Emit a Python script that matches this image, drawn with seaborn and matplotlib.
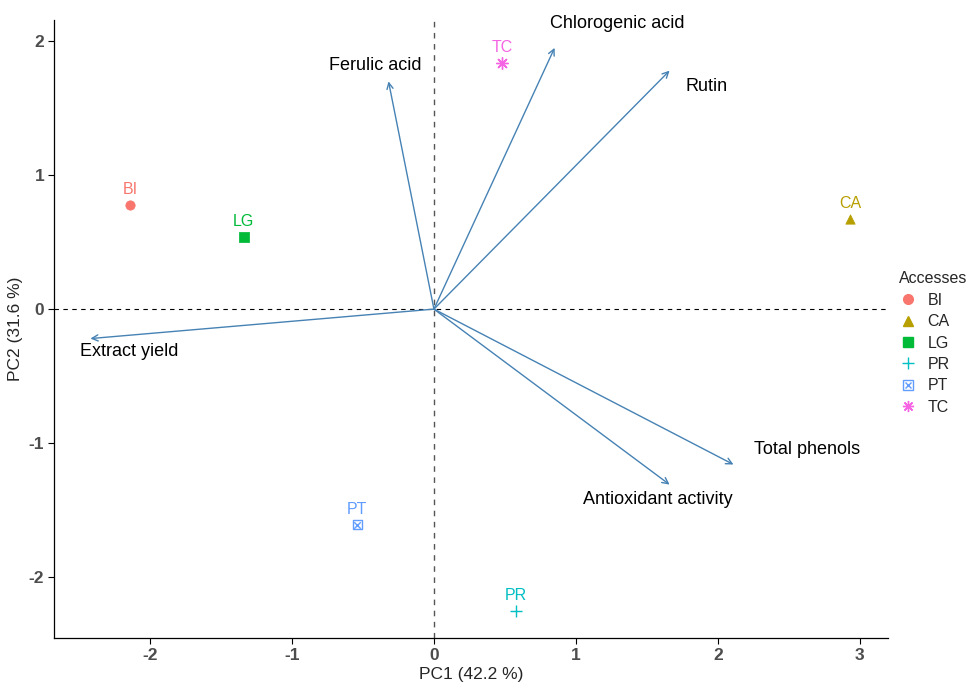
import matplotlib
matplotlib.use("Agg")
import seaborn as sns
import pandas as pd
import matplotlib.pyplot as plt
from matplotlib.lines import Line2D
from matplotlib.legend_handler import HandlerTuple

# individuals (accessions)
accessions = ["BI", "CA", "LG", "PR", "PT", "TC"]
pc1_ind = [-2.14, 2.93, -1.34, 0.58, -0.54, 0.48]
pc2_ind = [0.78, 0.67, 0.54, -2.25, -1.61, 1.84]

# variables (loadings)
variables = ["Ferulic acid", "Chlorogenic acid", "Rutin", "Total phenols",
             "Antioxidant activity", "Extract yield"]
pc1_var = [-0.32, 0.85, 1.66, 2.11, 1.66, -2.42]
pc2_var = [1.70, 1.95, 1.78, -1.16, -1.31, -0.22]
# label positions for variables
lab_x = [-0.41, 1.29, 1.92, 2.63, 1.58, -2.15]
lab_y = [1.82, 2.13, 1.66, -1.05, -1.42, -0.32]

palette = ["#F8766D", "#B79F00", "#00BA38", "#00BFC4", "#619CFF", "#F564E3"]
markers = ["o", "^", "s", "+", "s", (8, 2, 0)]

df = pd.DataFrame({"PC1": pc1_ind, "PC2": pc2_ind, "Accesses": accessions})

sns.set_theme(style="white")
plt.rcParams["font.family"] = ["Liberation Sans", "DejaVu Sans"]

fig = plt.figure(figsize=(9.7, 6.82), dpi=100)
ax = fig.add_axes([0.0557, 0.0645, 0.86, 0.906])

ax.axhline(0, color="black", ls=(0, (4, 4)), lw=0.8, zorder=1)
ax.axvline(0, color="#555555", ls=(0, (4, 4)), lw=1.0, zorder=1)

handles = []
for i, acc in enumerate(accessions):
    sub = df[df["Accesses"] == acc]
    col = palette[i]
    m = markers[i]
    if acc == "PT":
        sns.scatterplot(data=sub, x="PC1", y="PC2", marker="s", s=45,
                        facecolor="none", edgecolor=col, linewidth=1.0, ax=ax, legend=False)
        sns.scatterplot(data=sub, x="PC1", y="PC2", marker="x", s=22,
                        color=col, linewidth=1.0, ax=ax, legend=False)
        h = (Line2D([], [], marker="s", ls="", mfc="none", mec=col, ms=7),
             Line2D([], [], marker="x", ls="", color=col, ms=4.5))
    elif acc in ("PR", "TC"):
        sns.scatterplot(data=sub, x="PC1", y="PC2", marker=m, s=70,
                        color=col, linewidth=1.0, ax=ax, legend=False)
        h = Line2D([], [], marker=m, ls="", color=col, ms=8, mew=1.0)
    else:
        sns.scatterplot(data=sub, x="PC1", y="PC2", marker=m, s=45,
                        color=col, edgecolor=col, ax=ax, legend=False)
        h = Line2D([], [], marker=m, ls="", color=col, ms=7)
    handles.append(h)
    ax.text(sub["PC1"].iloc[0], sub["PC2"].iloc[0] + 0.06, acc, color=col,
            fontsize=11.5, ha="center", va="bottom")

for name, vx, vy, tx, ty in zip(variables, pc1_var, pc2_var, lab_x, lab_y):
    ax.annotate("", xy=(vx, vy), xytext=(0, 0),
                arrowprops=dict(arrowstyle="->", color="#4682B4", lw=1.0,
                                mutation_scale=11, shrinkA=0, shrinkB=0))
    ax.text(tx, ty, name, fontsize=13, ha="center", va="center", color="black")

ax.set_xlim(-2.676, 3.2)
ax.set_ylim(-2.455, 2.157)
ax.set_xticks([-2, -1, 0, 1, 2, 3])
ax.set_yticks([-2, -1, 0, 1, 2])
ax.set_xticklabels(["-2", "-1", "0", "1", "2", "3"])
ax.set_yticklabels(["-2", "-1", "0", "1", "2"])
for lab in ax.get_xticklabels() + ax.get_yticklabels():
    lab.set_fontweight("bold")
    lab.set_color("#4D4D4D")
    lab.set_fontsize(12.5)
ax.tick_params(axis="both", direction="out", length=4, width=0.8, color="black",
               bottom=True, left=True, pad=3)
ax.set_xlabel("PC1 (42.2 %)", fontsize=12.5, labelpad=3)
ax.set_ylabel("PC2 (31.6 %)", fontsize=12.5, labelpad=4)
sns.despine(ax=ax)
for sp in ("left", "bottom"):
    ax.spines[sp].set_color("black")
    ax.spines[sp].set_linewidth(0.9)

fig.legend(handles, accessions, title="Accesses", loc="center left",
           bbox_to_anchor=(0.915, 0.497), frameon=False, fontsize=11.5,
           title_fontsize=11.5, handler_map={tuple: HandlerTuple(ndivide=1, pad=0)},
           handlelength=1.2, handletextpad=0.6, labelspacing=0.4,
           alignment="left", borderpad=0.2)

fig.savefig("out.png", dpi=100)
